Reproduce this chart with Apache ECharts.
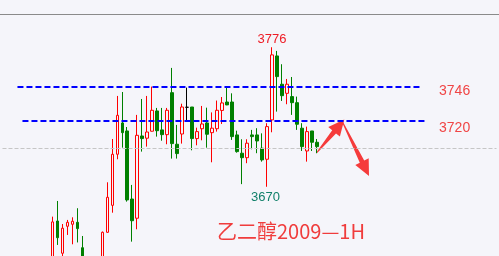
<!DOCTYPE html>
<html>
<head>
<meta charset="utf-8">
<script src="https://cdn.jsdelivr.net/npm/echarts@6/dist/echarts.min.js"></script>
<style>
html,body{margin:0;padding:0;background:#f5f5fa;}
#c{width:499px;height:256px;}
</style>
</head>
<body>
<div id="c"></div>
<script>
// 1H bars, 乙二醇2009
const categories = ['1','2','3','4','5','6','7','8','9','10','11','12','13','14','15','16','17','18','19','20',
  '21','22','23','24','25','26','27','28','29','30','31','32','33','34','35','36','37','38','39','40',
  '41','42','43','44','45','46','47','48','49','50','51','52','53','54'];
const opens  = [3608,3644,3619.5,3640,3641.5,3643,3623.7,3608,3598,3592,3606,3635.4,3655.9,3694.7,3718.5,3712.4,3660.7,3646.1,3708.6,3706.9,
  3712.2,3727.6,3713.2,3709.6,3741.5,3702.3,3710.1,3730.4,3730.6,3706.6,3714.1,3718.5,3711.1,3714.1,3728,3734.4,3734.4,3709.4,3695.5,3692.1,
  3709.4,3709.4,3699.3,3690.9,3720.8,3769.4,3747.9,3741,3738.5,3733.9,3714.5,3697.2,3712.4,3703.8];
const closes = [3643.3,3631.3,3638.5,3643,3643.8,3638.2,3608,3598,3592,3606,3635.4,3662,3694.7,3724.3,3711.1,3660,3644.2,3709.1,3706.6,3711.6,
  3728.1,3712.6,3709.6,3728.1,3702.8,3695.2,3730.6,3730.4,3706.6,3711.9,3717.7,3709.9,3714.5,3728.1,3733.7,3732.2,3708.1,3696.7,3692.1,3703.1,
  3708.1,3704.8,3690.4,3715.7,3770.2,3753.7,3739.2,3747.9,3733.9,3717.5,3700.5,3711.9,3703.8,3700.5];
const lows   = [3605,3625.8,3616,3633.4,3626.3,3627.7,3602,3594,3588,3590,3604,3635,3650.3,3690.9,3699.7,3658.7,3628.3,3637.7,3696.7,3700.5,
  3712,3708.1,3705,3702.3,3691.4,3691.4,3702.8,3719.2,3697.7,3701.5,3705.3,3699.7,3688.6,3711.9,3717.7,3732,3705.6,3695.9,3672,3687.9,
  3698.5,3695.5,3689.1,3670,3711.4,3727.1,3735.2,3732.7,3724.6,3713.2,3697.2,3689.1,3697.2,3695.5];
const highs  = [3647.3,3659.2,3641.7,3644.8,3646.8,3653.7,3632.6,3611,3602,3608,3636,3673.4,3706.3,3739,3742,3715.4,3671.4,3724.6,3736.7,3739,
  3746.1,3729.9,3729.9,3729.9,3760.3,3717,3733.1,3745.3,3730.6,3714.9,3731.4,3730.1,3726.5,3735.5,3738.2,3745.6,3741,3712.6,3706.1,3706.1,
  3713.2,3714.5,3710.6,3718.3,3776,3773.2,3763.1,3751.9,3753.4,3738.5,3718.3,3715.7,3712.4,3706.3];
const levelLines = [3746, 3720];
const refLevel = 3699;
const highMark = 3776;
const lowMark = 3670;
const titleText = '乙二醇2009—1H';

// padding categories so bars sit where the reference draws them
const PADL = 10, PADR = 36;
const xCats = [];
for (let i = 0; i < PADL; i++) xCats.push('pl' + i);
categories.forEach(c => xCats.push(c));
for (let i = 0; i < PADR; i++) xCats.push('pr' + i);

const kdata = [];
for (let i = 0; i < PADL; i++) kdata.push('-');
categories.forEach((c, i) => kdata.push([opens[i], closes[i], lows[i], highs[i]]));

const idxHigh = PADL + highs.indexOf(highMark);
const idxLow = PADL + lows.indexOf(lowMark);

const chart = echarts.init(document.getElementById('c'), null, {renderer: 'canvas'});
const blue = {color: '#0000ff', width: 2, type: [6, 3]};
const lblRed = '#f04545';
chart.setOption({
  animation: false,
  backgroundColor: '#f5f5fa',
  title: {
    text: titleText, left: 217, top: 221, padding: 0,
    textStyle: {color: '#f03c3c', fontSize: 20, fontWeight: 'normal', fontFamily: 'Noto Sans CJK SC'}
  },
  grid: {left: 0, top: 15, width: 500, height: 241},
  xAxis: {type: 'category', data: xCats, show: false, boundaryGap: true},
  yAxis: {type: 'value', min: 3617.4, max: 3800.5, show: false, splitLine: {show: false}},
  series: [{
    type: 'candlestick',
    data: kdata,
    barWidth: 3,
    clip: true,
    itemStyle: {
      color: 'rgba(0,0,0,0)', color0: '#008000',
      borderColor: '#ff0000', borderColor0: '#008000', borderColorDoji: '#000000',
      borderWidth: 1
    },
    markLine: {
      silent: true, symbol: ['none', 'none'], label: {show: false}, animation: false,
      data: [
        [{xAxis: 3, yAxis: levelLines[0], lineStyle: blue}, {xAxis: 84, yAxis: levelLines[0]}],
        [{xAxis: 4, yAxis: levelLines[1], lineStyle: blue}, {xAxis: 85, yAxis: levelLines[1]}],
        [{xAxis: 0, yAxis: refLevel, lineStyle: {color: '#c6c6c6', width: 1, type: [4, 2]}}, {xAxis: 99, yAxis: refLevel}]
      ]
    },
    markPoint: {
      silent: true, symbol: 'circle', symbolSize: 0, animation: false,
      itemStyle: {color: 'rgba(0,0,0,0)'},
      data: [
        {coord: [xCats[idxHigh], highMark], value: highMark,
         label: {show: true, position: 'inside', offset: [0, -8], color: '#ee1c25', fontSize: 13, fontFamily: 'Liberation Sans', formatter: '{c}'}},
        {coord: [xCats[idxLow], lowMark], value: lowMark,
         label: {show: true, position: 'inside', offset: [-1.5, 10.5], color: '#11806a', fontSize: 13, fontFamily: 'Liberation Sans', formatter: '{c}'}},
        {coord: [xCats[90], levelLines[0]], value: levelLines[0],
         label: {show: true, position: 'inside', offset: [3, 4.5], color: lblRed, fontSize: 14, fontFamily: 'Liberation Sans', formatter: '{c}'}},
        {coord: [xCats[90], levelLines[1]], value: levelLines[1],
         label: {show: true, position: 'inside', offset: [3, 7], color: lblRed, fontSize: 14, fontFamily: 'Liberation Sans', formatter: '{c}'}}
      ]
    }
  }],
  graphic: [
    {type: 'line', shape: {x1: 0, y1: 14.5, x2: 499, y2: 14.5}, style: {stroke: '#8a8a8a', lineWidth: 1}, silent: true},
    {type: 'polygon', silent: true,
     shape: {points: [[316.9,153.3],[336.0,133.4],[339.9,136.6],[344.3,119.5],[328.3,127.0],[332.2,130.2],[316.1,152.7]]},
     style: {fill: '#f53b3b'}},
    {type: 'polygon', silent: true,
     shape: {points: [[341.6,121.2],[359.8,162.7],[355.3,164.9],[369,176],[368.7,158.3],[364.2,160.5],[342.4,120.8]]},
     style: {fill: '#f53b3b'}}
  ]
});
</script>
</body>
</html>
